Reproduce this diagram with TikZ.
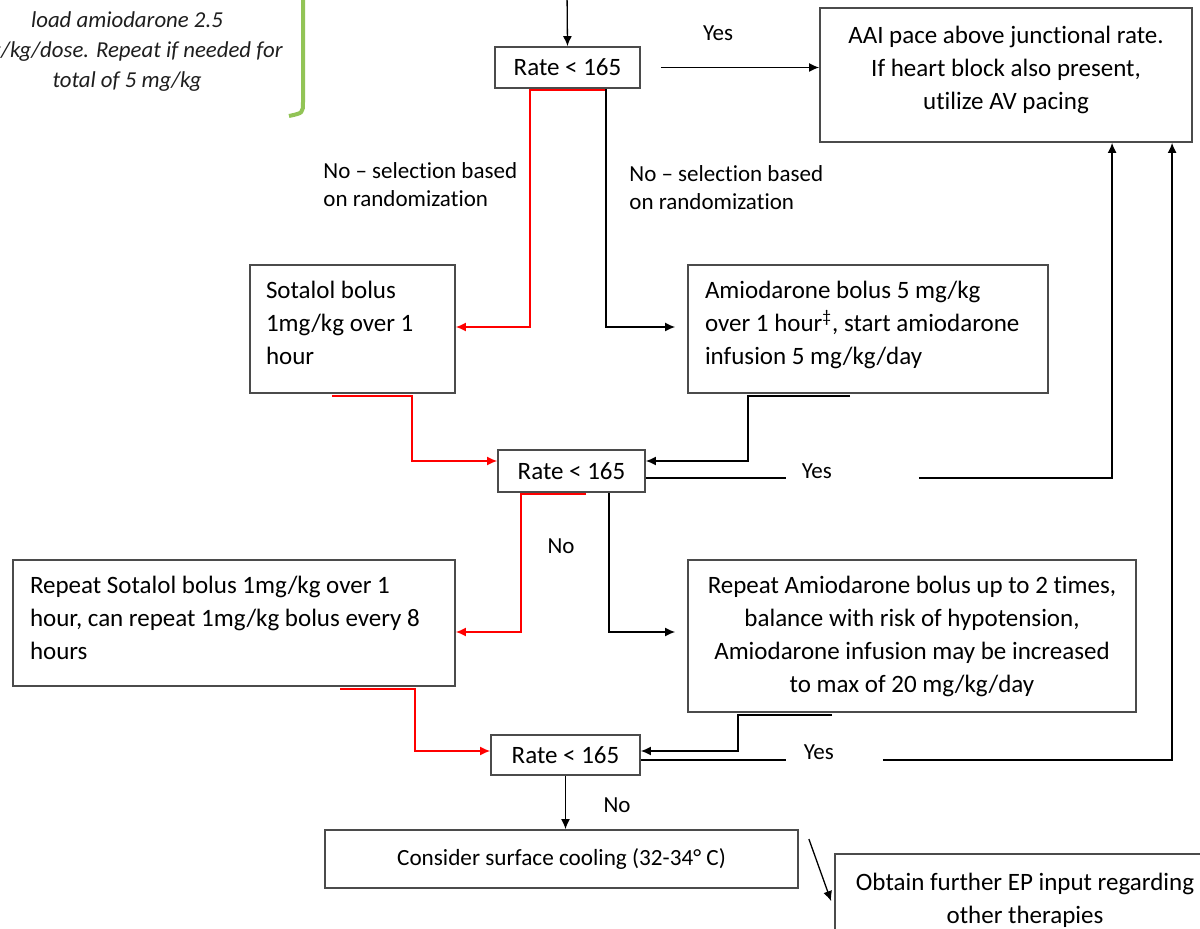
\documentclass[tikz,border=0pt]{standalone}
\usepackage{fontspec}
\setmainfont{Carlito}[Ligatures=NoCommon]
\usetikzlibrary{arrows.meta,calc,positioning}

\definecolor{red1}{RGB}{255,0,0}
\definecolor{green1}{RGB}{146,196,86}
\definecolor{gray1}{RGB}{75,75,75}
\definecolor{note1}{RGB}{30,30,30}
\tikzstyle{arrow} = [draw, -{Latex[length=5pt,width=4.5pt]}, line width=0.65pt]
\tikzstyle{redarrow} = [arrow, color=red1]
\tikzstyle{conn} = [draw, -, line width=0.65pt]
\tikzstyle{box} = [draw=gray1, line width=0.9pt, inner sep=0pt, font=\fontsize{12.5}{16.5}\selectfont]
\tikzstyle{boxtext} = [inner sep=0pt, font=\fontsize{12.5}{16.5}\selectfont]
\tikzstyle{lbl} = [inner sep=0pt, font=\fontsize{11.5}{14}\selectfont]

\begin{document}
\begin{tikzpicture}[x=0.5pt, y=-0.5pt]
    \useasboundingbox (0,0) rectangle (1200,929);

    % note on the left
    \node[inner sep=0pt, align=center, color=note1, font=\fontsize{11.4}{15}\selectfont\itshape] (note) at (127,52)
        {load amiodarone 2.5\\mg/kg/dose. Repeat if needed for\\total of 5 mg/kg};
    \draw[color=green1, line width=2pt] (303,-5) -- (303,102) .. controls (303,113) .. (289,116);

    % boxes
    \node[box, minimum width=72.5pt, minimum height=20.5pt] (r1) at (567.5,67.5) {Rate < 165};
    \node[box, minimum width=186pt, minimum height=67pt] (aai) at (1006,75) {};
    \node[box, minimum width=102.5pt, minimum height=64pt] (sot) at (352.5,329) {};
    \node[box, minimum width=180pt, minimum height=64pt] (amio) at (868,329) {};
    \node[box, minimum width=73.5pt, minimum height=21pt] (r2) at (571.5,471) {Rate < 165};
    \node[box, minimum width=221pt, minimum height=63pt] (rsot) at (234,623) {};
    \node[box, minimum width=224pt, minimum height=76pt, align=center] (ramio) at (912,636)
        {Repeat Amiodarone bolus up to 2 times,\\balance with risk of hypotension,\\Amiodarone infusion may be increased\\to max of 20 mg/kg/day};
    \node[box, minimum width=74.5pt, minimum height=20pt] (r3) at (565.5,755) {Rate < 165};
    \node[box, minimum width=236.5pt, minimum height=29pt, font=\fontsize{11.6}{14}\selectfont] (cool) at (561.5,859)
        {Consider surface cooling (32-34° C)};
    \node[box, minimum width=190pt, minimum height=46pt, align=center] (ep) at (1025,900)
        {Obtain further EP input regarding\\other therapies};

    % box texts
    \node[boxtext, align=center] (aaitext) at ($(aai.center)+(0,-5)$)
        {AAI pace above junctional rate.\\If heart block also present,\\utilize AV pacing};
    \node[boxtext, text width=86.5pt, align=flush left] (sottext) at ($(sot.center)+(0,-6)$)
        {Sotalol bolus\\1mg/kg over 1\\hour};
    \node[boxtext, text width=163pt, align=flush left] (amiotext) at ($(amio.center)+(0,-4)$)
        {Amiodarone bolus 5 mg/kg\\over 1 hour\textsuperscript{\ddag}, start amiodarone\\infusion 5 mg/kg/day};
    \node[boxtext, text width=204pt, align=flush left] (rsottext) at ($(rsot.center)+(0,-5)$)
        {Repeat Sotalol bolus 1mg/kg over 1\\hour, can repeat 1mg/kg bolus every 8\\hours};

    % labels
    \node[lbl] (yes1) at (718,33) {Yes};
    \node[lbl, anchor=west, align=flush left] (no1) at (323,185) {No -- selection based\\on randomization};
    \node[lbl, anchor=west, align=flush left] (no2) at (629,188) {No -- selection based\\on randomization};
    \node[lbl] (no3) at (561,546) {No};
    \node[lbl] (no4) at (617,805) {No};

    % first rate check
    \coordinate (entry) at (567,-10);
    \draw[arrow] (entry) -- (r1.north);
    \coordinate (yes1s) at ($(r1.east)+(20,0)$);
    \draw[arrow] (yes1s) -- (yes1s -| aai.west);
    \draw[redarrow] ($(r1.south)+(38.5,1)$) -- ($(r1.south)+(-37.5,1)$) |- ($(sot.east)+(0,-2)$);
    \draw[arrow, shorten >=6pt] ($(r1.south)+(38.5,0)$) |- ($(amio.west)+(0,-2)$);

    % second rate check
    \draw[redarrow] ($(sot.south)+(-20.5,2)$) -- ($(sot.south)+(59.5,2)$) |- ($(r2.west)+(0,-10)$);
    \draw[arrow] ($(amio.south)+(-18,2)$) -- ($(amio.south)+(-120,2)$) |- ($(r2.east)+(0,-10)$);
    \coordinate (y2a) at ($(r2.east)+(140,7)$);
    \coordinate (y2b) at ($(y2a)+(133,0)$);
    \draw[conn] ($(r2.east)+(0,7)$) -- (y2a);
    \node[lbl] (yes2) at ($(y2a)+(31,-7)$) {Yes};
    \draw[arrow] (y2b) -| ($(aai.south west)+(293,0)$);
    \draw[redarrow] ($(r2.south)+(14.5,1)$) -- ($(r2.south)+(-50.5,1)$) |- ($(rsot.east)+(0,9)$);
    \draw[arrow, shorten >=6pt] ($(r2.south)+(37.5,0)$) |- ($(ramio.west)+(0,-4)$);

    % third rate check
    \draw[redarrow] ($(rsot.south)+(106,2)$) -- ($(rsot.south)+(181,2)$) |- ($(r3.west)+(0,-4)$);
    \draw[arrow] ($(ramio.south)+(-80,2)$) -- ($(ramio.south)+(-174,2)$) |- ($(r3.east)+(0,-4)$);
    \coordinate (y3a) at ($(r3.east)+(145,5)$);
    \coordinate (y3b) at ($(y3a)+(97,0)$);
    \draw[conn] ($(r3.east)+(0,5)$) -- (y3a);
    \node[lbl] (yes3) at ($(y3a)+(33,-8)$) {Yes};
    \draw[arrow] (y3b) -| ($(aai.south west)+(353,0)$);
    \draw[arrow] (r3.south) -- (r3.south |- cool.north);
    \draw[arrow] ($(cool.north east)+(10,10)$) -- ($(ep.north west)+(-3,48)$);
\end{tikzpicture}
\end{document}
